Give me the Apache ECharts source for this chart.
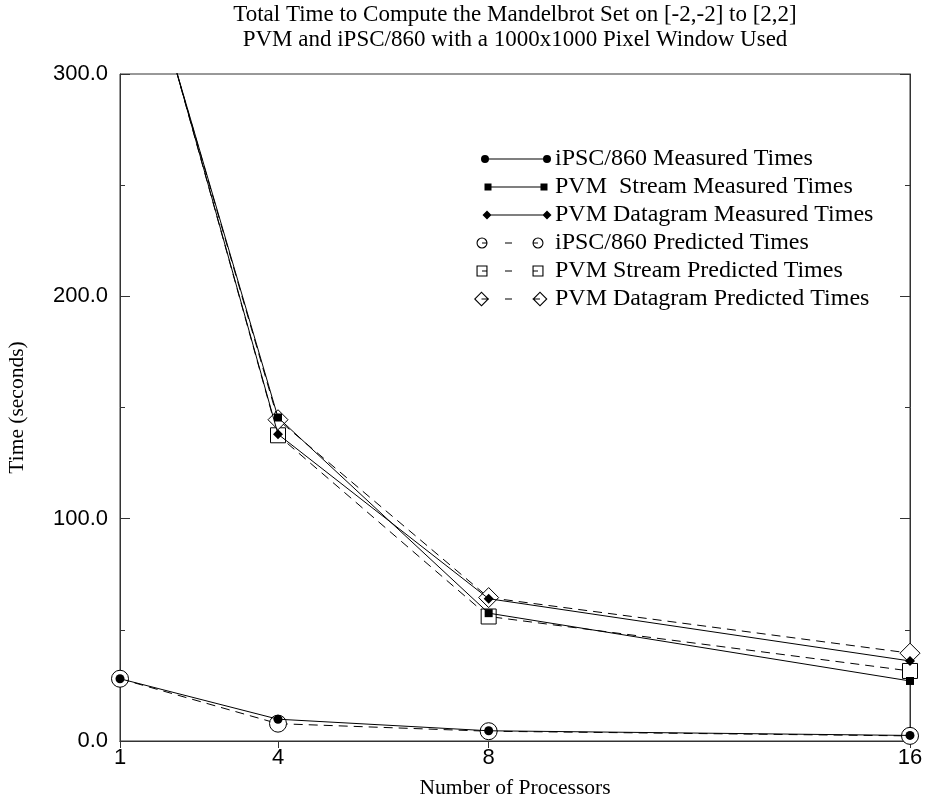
<!DOCTYPE html>
<html>
<head>
<meta charset="utf-8">
<script src="https://cdn.jsdelivr.net/npm/echarts@6/dist/echarts.min.js"></script>
<style>
  html, body { margin: 0; padding: 0; background: #fff; }
  #chart { width: 925px; height: 803px; }
</style>
</head>
<body>
<div id="chart"></div>
<script>
// processor counts on the x axis
var procs = [1, 4, 8, 16]
var xTicks = [1, 4, 8, 16]
// measured times (seconds)
var ipscMeasured = [28, 9.8, 4.6, 2.5]
var streamMeasured = [388, 145.5, 57.5, 27]
var datagramMeasured = [392, 138, 64, 36]
// predicted times (seconds)
var ipscPredicted = [28, 7.8, 4.4, 2.3]
var streamPredicted = [392, 137.5, 56, 31.5]
var datagramPredicted = [388, 144.5, 64.5, 39.5]

var serif = '"Liberation Serif", "Times New Roman", serif'
var sans = '"Liberation Sans", Arial, sans-serif'

function pairs (ys) {
  return procs.map(function (x, i) { return [x, ys[i]] })
}

function measured (name, ys, symbol, size) {
  return {
    name: name,
    type: 'line',
    data: pairs(ys),
    symbol: symbol,
    symbolSize: size,
    z: 3,
    lineStyle: { color: '#000', width: 1 },
    itemStyle: { color: '#000' }
  }
}

function predicted (name, ys, symbol, size) {
  return {
    name: name,
    type: 'line',
    data: pairs(ys),
    symbol: symbol,
    symbolSize: size,
    z: 2,
    lineStyle: { color: '#000', width: 1, type: [9, 6] },
    itemStyle: { color: '#fff', borderColor: '#000', borderWidth: 1 }
  }
}

// --- legend sample icons: line with a marker at both ends (78 x 16 box) ---
var W = 78
var H = 16
var C = 8
function disc (cx, cy, r, sweep) {
  return 'M' + (cx - r) + ' ' + cy + ' A' + r + ' ' + r + ' 0 1 ' + sweep + ' ' + (cx + r) + ' ' + cy +
    ' A' + r + ' ' + r + ' 0 1 ' + sweep + ' ' + (cx - r) + ' ' + cy + ' Z '
}
function ring (cx, cy, r) { return disc(cx, cy, r, 1) + disc(cx, cy, r - 1.1, 0) }
function box (x0, y0, x1, y1, ccw) {
  if (ccw) return 'M' + x0 + ' ' + y0 + ' L' + x0 + ' ' + y1 + ' L' + x1 + ' ' + y1 + ' L' + x1 + ' ' + y0 + ' Z '
  return 'M' + x0 + ' ' + y0 + ' L' + x1 + ' ' + y0 + ' L' + x1 + ' ' + y1 + ' L' + x0 + ' ' + y1 + ' Z '
}
function square (cx, cy, h) { return box(cx - h, cy - h, cx + h, cy + h) }
function squareRing (cx, cy, h) { return square(cx, cy, h) + box(cx - h + 1.1, cy - h + 1.1, cx + h - 1.1, cy + h - 1.1, true) }
function diamond (cx, cy, h, ccw) {
  if (ccw) return 'M' + cx + ' ' + (cy - h) + ' L' + (cx - h) + ' ' + cy + ' L' + cx + ' ' + (cy + h) + ' L' + (cx + h) + ' ' + cy + ' Z '
  return 'M' + cx + ' ' + (cy - h) + ' L' + (cx + h) + ' ' + cy + ' L' + cx + ' ' + (cy + h) + ' L' + (cx - h) + ' ' + cy + ' Z '
}
function diamondRing (cx, cy, h) { return diamond(cx, cy, h) + diamond(cx, cy, h - 1.6, true) }
function hline (x0, x1) { return box(x0, C - 0.6, x1, C + 0.6) }
function icon (body) { return 'path://M0 0 M' + W + ' ' + H + ' ' + body }

var icons = [
  icon(disc(11, C, 4, 1) + hline(11, 73) + disc(73, C, 4, 1)),
  icon(square(14, C, 3.5) + hline(14, 70) + square(70, C, 3.5)),
  icon(diamond(13, C, 4.5) + hline(13, 73) + diamond(73, C, 4.5)),
  icon(ring(8, C, 5.5) + hline(8, 13.5) + hline(31, 38) + hline(58.5, 64) + ring(64, C, 5.5)),
  icon(squareRing(8, C, 5.5) + hline(8, 13.5) + hline(31, 38) + hline(58.5, 64) + squareRing(64, C, 5.5)),
  icon(diamondRing(7.5, C, 7.5) + hline(7.5, 15) + hline(31, 38) + hline(58.5, 66) + diamondRing(66, C, 7.5))
]
var legendNames = [
  'iPSC/860 Measured Times',
  'PVM  Stream Measured Times',
  'PVM Datagram Measured Times',
  'iPSC/860 Predicted Times',
  'PVM Stream Predicted Times',
  'PVM Datagram Predicted Times'
]

var chart = echarts.init(document.getElementById('chart'))
var option = {
  animation: false,
  backgroundColor: '#fff',
  title: {
    text: 'Total Time to Compute the Mandelbrot Set on [-2,-2] to [2,2]\nPVM and iPSC/860 with a 1000x1000 Pixel Window Used',
    left: 515,
    top: 2,
    padding: 0,
    textAlign: 'center',
    textStyle: {
      fontFamily: serif,
      fontWeight: 'normal',
      fontSize: 23,
      lineHeight: 25,
      color: '#000'
    }
  },
  legend: {
    orient: 'vertical',
    left: 474,
    top: 147,
    padding: 0,
    itemWidth: W,
    itemHeight: H,
    itemGap: 4,
    data: legendNames.map(function (n, i) {
      return { name: n, icon: icons[i], itemStyle: { color: '#000', borderWidth: 0 } }
    }),
    textStyle: { fontFamily: serif, fontSize: 24, lineHeight: 16, color: '#000', padding: [0, 0, 0, -2] }
  },
  grid: {
    left: 120,
    right: 15,
    top: 74,
    bottom: 62,
    outerBoundsMode: 'none',
    show: true,
    borderColor: '#333',
    borderWidth: 1
  },
  xAxis: [
    {
      type: 'value',
      min: 1,
      max: 16,
      name: 'Number of Processors',
      nameLocation: 'middle',
      nameGap: 36,
      nameTextStyle: { fontFamily: serif, fontSize: 21.5, color: '#000' },
      axisLine: { lineStyle: { color: '#333' } },
      axisTick: { customValues: xTicks, inside: false, length: 7, lineStyle: { color: '#333' } },
      axisLabel: { customValues: xTicks, fontFamily: sans, fontSize: 22, color: '#000', margin: 6 },
      splitLine: { show: false }
    },
    {
      type: 'value',
      min: 1,
      max: 16,
      position: 'top',
      axisLine: { lineStyle: { color: '#333' } },
      axisTick: { show: false },
      axisLabel: { show: false },
      splitLine: { show: false }
    }
  ],
  yAxis: [
    {
      type: 'value',
      min: 0,
      max: 300,
      interval: 100,
      name: 'Time (seconds)',
      nameLocation: 'middle',
      nameGap: 92,
      nameTextStyle: { fontFamily: serif, fontSize: 21.5, color: '#000' },
      axisLine: { show: true, lineStyle: { color: '#333' } },
      axisTick: { inside: true, length: 10, lineStyle: { color: '#333' } },
      minorTick: { show: true, splitNumber: 2, length: 5, lineStyle: { color: '#333' } },
      axisLabel: {
        fontFamily: sans,
        fontSize: 22,
        color: '#000',
        margin: 12,
        formatter: function (v) { return v.toFixed(1) }
      },
      splitLine: { show: false }
    },
    {
      type: 'value',
      min: 0,
      max: 300,
      interval: 100,
      position: 'right',
      axisLine: { show: true, lineStyle: { color: '#333' } },
      axisTick: { inside: true, length: 10, lineStyle: { color: '#333' } },
      minorTick: { show: true, splitNumber: 2, length: 5, lineStyle: { color: '#333' } },
      axisLabel: { show: false },
      splitLine: { show: false }
    }
  ],
  series: [
    predicted('iPSC/860 Predicted Times', ipscPredicted, 'circle', 17),
    predicted('PVM Stream Predicted Times', streamPredicted, 'rect', 15),
    predicted('PVM Datagram Predicted Times', datagramPredicted, 'diamond', 20),
    measured('iPSC/860 Measured Times', ipscMeasured, 'circle', 9),
    measured('PVM  Stream Measured Times', streamMeasured, 'rect', 8),
    measured('PVM Datagram Measured Times', datagramMeasured, 'diamond', 10)
  ]
}
chart.setOption(option)
</script>
</body>
</html>
